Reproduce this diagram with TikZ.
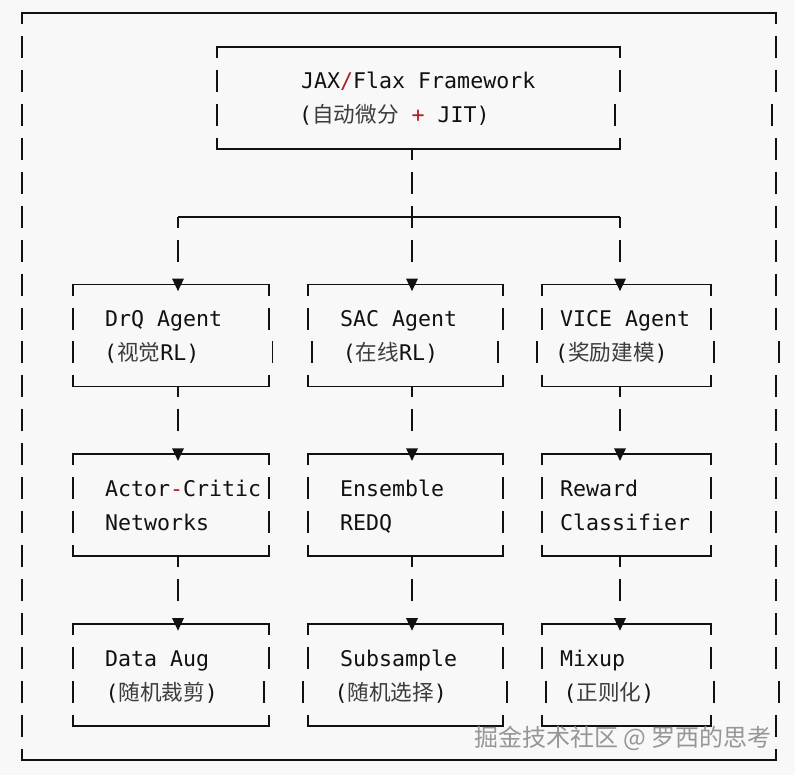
\documentclass[tikz,border=0pt]{standalone}
\usepackage{fontspec}
\newfontfamily\monofont{DejaVu Sans Mono}
\newfontfamily\cjkfont{Noto Sans CJK SC}
\definecolor{bgc}{RGB}{248,248,248}
\definecolor{ink}{RGB}{17,17,17}
\definecolor{zhcol}{RGB}{60,60,60}
\definecolor{redc}{RGB}{175,30,30}
\definecolor{wm}{RGB}{150,150,150}
\newcommand\zh[1]{{\cjkfont\color{zhcol}#1}}
\newcommand\rd[1]{{\color{redc}#1}}
\newcommand\ry[1]{13+33.95*(#1)}
\newcommand\vb[2]{\draw[bar] (#1,{\ry{#2}-11}) -- (#1,{\ry{#2}+11});}
\newcommand\bx[4]{%
  \draw[bar] (#1,{\ry{#3}+11}) -- (#1,{\ry{#3}}) -- (#2,{\ry{#3}}) -- (#2,{\ry{#3}+11});
  \draw[bar] (#1,{\ry{#4}-11}) -- (#1,{\ry{#4}}) -- (#2,{\ry{#4}}) -- (#2,{\ry{#4}-11});}
\newcommand\tri[1]{\fill[ink] (#1) ++(-6,-6) -- ++(12,0) -- ++(-6,12.5) -- cycle;}
\tikzset{
  bar/.style={draw=ink, line width=1.8pt, line join=miter},
  conn/.style={draw=ink, line width=1.8pt, dash pattern=on 22pt off 11.95pt, dash phase=11pt, shorten >=12pt},
  txt/.style={font=\monofont\fontsize{21.6}{26}\selectfont, text=ink, inner sep=0pt, anchor=base west},
  wmk/.style={font=\cjkfont\fontsize{24}{28}\selectfont, text=wm, inner sep=0pt, anchor=east}
}
\begin{document}
\begin{tikzpicture}[x=1pt,y=-1pt]
\fill[bgc] (0,0) rectangle (795,775);
\useasboundingbox (0,0) rectangle (795,775);

% outer frame
\bx{22}{776}{0}{22}
\foreach \r in {1,...,21} {\vb{22}{\r}}
\foreach \r in {1,2,4,5,6,7,8,9,11,12,13,14,15,16,17,18,19,21} {\vb{776}{\r}}
\vb{772}{3}\vb{779}{10}\vb{779}{20}

% JAX box
\bx{217}{620}{1}{4}
\vb{217}{2}\vb{620}{2}\vb{217}{3}\vb{615}{3}
\node[txt] (jax1) at (301,{\ry{2}+8}) {JAX\rd{/}Flax Framework};
\node[txt] (jax2) at (299,{\ry{3}+8}) {(\zh{自动微分} \rd{+} JIT)};

% left column
\bx{73}{269}{8}{11}
\vb{73}{9}\vb{269}{9}\vb{73}{10}\vb{272.5}{10}
\bx{73}{269}{13}{16}
\vb{73}{14}\vb{269}{14}\vb{73}{15}\vb{269}{15}
\bx{73}{269}{18}{21}
\vb{73}{19}\vb{269}{19}\vb{73}{20}\vb{264}{20}

% middle column
\bx{308}{503}{8}{11}
\vb{308}{9}\vb{503}{9}\vb{311.7}{10}\vb{498}{10}
\bx{308}{503}{13}{16}
\vb{308}{14}\vb{503}{14}\vb{308}{15}\vb{503}{15}
\bx{308}{503}{18}{21}
\vb{308}{19}\vb{503}{19}\vb{302.7}{20}\vb{506.7}{20}

% right column
\bx{542}{711}{8}{11}
\vb{542}{9}\vb{711}{9}\vb{536.7}{10}\vb{714}{10}
\bx{542}{711}{13}{16}
\vb{542}{14}\vb{711}{14}\vb{542}{15}\vb{711}{15}
\bx{542}{711}{18}{21}
\vb{542}{19}\vb{711}{19}\vb{545.7}{20}\vb{714}{20}

% texts
\node[txt] (drq1) at (105,{\ry{9}+8}) {DrQ Agent};
\node[txt] (drq2) at (104,{\ry{10}+8}) {(\zh{视觉}RL)};
\node[txt] (sac1) at (340,{\ry{9}+8}) {SAC Agent};
\node[txt] (sac2) at (342.7,{\ry{10}+8}) {(\zh{在线}RL)};
\node[txt] (vice1) at (560,{\ry{9}+8}) {VICE Agent};
\node[txt] (vice2) at (555,{\ry{10}+8}) {(\zh{奖励建模})};

\node[txt] (ac1) at (105,{\ry{14}+8}) {Actor\rd{-}Critic};
\node[txt] (ac2) at (105,{\ry{15}+8}) {Networks};
\node[txt] (ens1) at (340,{\ry{14}+8}) {Ensemble};
\node[txt] (ens2) at (340,{\ry{15}+8}) {REDQ};
\node[txt] (rew1) at (560,{\ry{14}+8}) {Reward};
\node[txt] (rew2) at (560,{\ry{15}+8}) {Classifier};

\node[txt] (aug1) at (105,{\ry{19}+8}) {Data Aug};
\node[txt] (aug2) at (105.3,{\ry{20}+8}) {(\zh{随机裁剪})};
\node[txt] (sub1) at (340,{\ry{19}+8}) {Subsample};
\node[txt] (sub2) at (334.3,{\ry{20}+8}) {(\zh{随机选择})};
\node[txt] (mix1) at (560,{\ry{19}+8}) {Mixup};
\node[txt] (mix2) at (563.3,{\ry{20}+8}) {(\zh{正则化})};

% connector points
\coordinate (jaxB) at (412,{\ry{4}});
\coordinate (hubL) at (178,{\ry{6}});
\coordinate (hubR) at (620,{\ry{6}});
\coordinate (drqT) at (178,{\ry{8}});
\coordinate (sacT) at (412,{\ry{8}});
\coordinate (viceT) at (620,{\ry{8}});
\coordinate (drqB) at (178,{\ry{11}});
\coordinate (sacB) at (412,{\ry{11}});
\coordinate (viceB) at (620,{\ry{11}});
\coordinate (acT) at (178,{\ry{13}});
\coordinate (ensT) at (412,{\ry{13}});
\coordinate (rewT) at (620,{\ry{13}});
\coordinate (acB) at (178,{\ry{16}});
\coordinate (ensB) at (412,{\ry{16}});
\coordinate (rewB) at (620,{\ry{16}});
\coordinate (augT) at (178,{\ry{18}});
\coordinate (subT) at (412,{\ry{18}});
\coordinate (mixT) at (620,{\ry{18}});

% connectors
\draw[bar] (hubL) -- (hubR);
\draw[conn] (jaxB) -- (sacT);
\draw[conn] (hubL) -- (drqT);
\draw[conn] (hubR) -- (viceT);
\draw[conn] (drqB) -- (acT);
\draw[conn] (sacB) -- (ensT);
\draw[conn] (viceB) -- (rewT);
\draw[conn] (acB) -- (augT);
\draw[conn] (ensB) -- (subT);
\draw[conn] (rewB) -- (mixT);
\tri{drqT}\tri{sacT}\tri{viceT}
\tri{acT}\tri{ensT}\tri{rewT}
\tri{augT}\tri{subT}\tri{mixT}

% watermark
\node[wmk] (wmark) at (772,738) {掘金技术社区 @ 罗西的思考};
\end{tikzpicture}
\end{document}
